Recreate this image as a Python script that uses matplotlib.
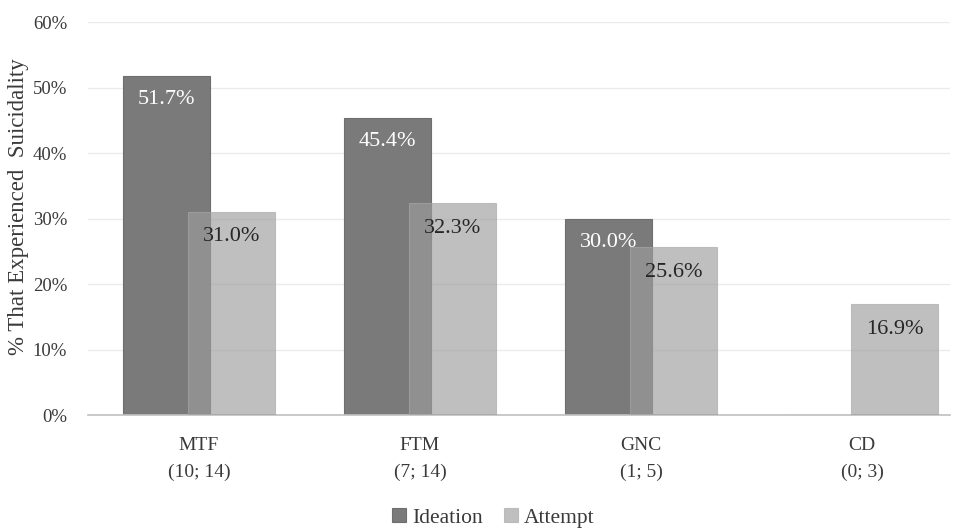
import matplotlib
matplotlib.use("Agg")
import matplotlib.pyplot as plt
import numpy as np

categories = ["MTF\n(10; 14)", "FTM\n(7; 14)", "GNC\n(1; 5)", "CD\n(0; 3)"]
ideation = [51.7, 45.4, 30.0, 0.0]
attempt = [31.0, 32.3, 25.6, 16.9]
yticks = [0, 10, 20, 30, 40, 50, 60]

plt.rcParams['font.family'] = ['Liberation Serif', 'DejaVu Serif']

fig = plt.figure(figsize=(9.61, 5.29), dpi=100)
ax = fig.add_axes([0.0916, 0.2155, 0.8970, 0.7429])

x = np.arange(len(categories))
w = 0.395
off = 0.147
ax.bar(x - off, ideation, width=w, color='#7a7a7a', edgecolor='#6e6e6e', linewidth=0.8, zorder=2, label='Ideation')
ax.bar(x + off, attempt, width=w, color='#9d9d9d', alpha=0.65, edgecolor='#a8a8a8', linewidth=0.8, zorder=3, label='Attempt')

for xi, v in zip(x - off, ideation):
    if v > 0:
        ax.annotate(f"{v:.1f}%", (xi, v), xytext=(0, -17), textcoords='offset points',
                    ha='center', va='center', color='white', fontsize=16, zorder=5)
for xi, v in zip(x + off, attempt):
    if v > 0:
        ax.annotate(f"{v:.1f}%", (xi, v), xytext=(0, -18), textcoords='offset points',
                    ha='center', va='center', color='#262626', fontsize=16, zorder=5)

ax.set_xlim(-0.502, 3.398)
ax.set_ylim(0, 60)
ax.set_yticks(yticks)
ax.set_yticklabels([f"{t}%" for t in yticks], fontsize=13.5, color='#3a3a3a')
ax.set_xticks(x)
ax.set_xticklabels(categories, fontsize=14, color='#3a3a3a', linespacing=1.7)
ax.tick_params(axis='both', length=0)
ax.tick_params(axis='x', pad=16)
ax.tick_params(axis='y', pad=15)
ax.grid(axis='y', color='#ebebeb', linewidth=1.0, zorder=0)
for s in ['top', 'right', 'left']:
    ax.spines[s].set_visible(False)
ax.spines['bottom'].set_color('#c0c0c0')
ax.spines['bottom'].set_linewidth(1.2)
ax.set_ylabel("% That Experienced  Suicidality", fontsize=16.5, color='#3a3a3a', labelpad=6)
ax.yaxis.set_label_coords(-0.068, 0.53)

ax.legend(loc='upper center', bbox_to_anchor=(0.47, -0.226), ncol=2, frameon=False,
          fontsize=15.5, handlelength=0.65, handleheight=0.65, handletextpad=0.25, columnspacing=1.0,
          labelcolor='#3a3a3a', borderaxespad=0, borderpad=0.2)

fig.savefig("out.png", dpi=100, facecolor='white')
